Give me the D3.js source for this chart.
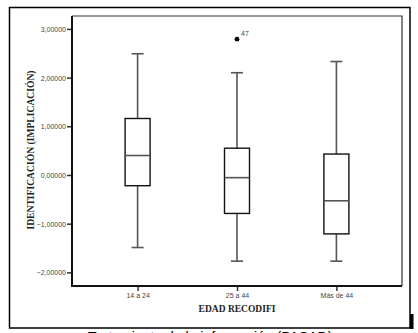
<!DOCTYPE html>
<html>
<head>
<meta charset="utf-8">
<script src="https://cdn.jsdelivr.net/npm/d3@7"></script>
<style>
  body { margin: 0; background: #fff; }
  svg { display: block; }
</style>
</head>
<body>
<svg id="chart" width="418" height="333"></svg>
<script>
// age groups and box stats
const groups = ['14 a 24', '25 a 44', 'Más de 44'];
const whiskerLow = [-1.49, -1.77, -1.77];
const q1 = [-0.22, -0.79, -1.21];
const median = [0.40, -0.055, -0.53];
const q3 = [1.16, 0.55, 0.43];
const whiskerHigh = [2.49, 2.10, 2.33];
const outliers = [{group: '25 a 44', value: 2.79, label: '47'}];
const yTicks = [-2, -1, 0, 1, 2, 3];

const svg = d3.select('#chart');

const plot = {left: 72, right: 402, top: 16, bottom: 286};

const x = d3.scalePoint()
    .domain(groups)
    .range([plot.left, plot.right])
    .padding(0.66);

const y = d3.scaleLinear()
    .domain([-2.28, 3.265])
    .range([plot.bottom, plot.top]);

const boxW = 25;
const capW = 12;

// outer frame + shadow
svg.append('rect')
    .attr('x', 9.5).attr('y', 7.5)
    .attr('width', 400.5).attr('height', 320.5)
    .attr('fill', 'none')
    .attr('stroke', '#000')
    .attr('stroke-width', 1.5);

svg.append('rect')
    .attr('x', 410).attr('y', 314)
    .attr('width', 3.5).attr('height', 15)
    .attr('fill', '#000');

// plot frame, top and right are thin
svg.append('path')
    .attr('d', `M${plot.left},${plot.top}H${plot.right}V${plot.bottom}`)
    .attr('fill', 'none')
    .attr('stroke', '#333')
    .attr('stroke-width', 1.2);

// axes
const yAxis = d3.axisLeft(y)
    .tickValues(yTicks)
    .tickSize(5)
    .tickFormat(d => d3.format('.5f')(d).replace('.', ','));

const xAxis = d3.axisBottom(x).tickSize(5);

const gy = svg.append('g')
    .attr('transform', `translate(${plot.left},0)`)
    .call(yAxis);

const gx = svg.append('g')
    .attr('transform', `translate(0,${plot.bottom})`)
    .call(xAxis);

[gy, gx].forEach(g => {
    g.select('.domain').remove();
    g.selectAll('.tick line').attr('stroke', '#333').attr('stroke-width', 1.5);
    g.selectAll('.tick text')
        .attr('fill', '#444')
        .style('font-family', 'Arial, "Liberation Sans", sans-serif')
        .style('font-size', '7px');
});
gy.selectAll('.tick text').attr('x', -6).attr('dy', '0.35em');
gx.selectAll('.tick text').attr('y', 7).attr('dy', '0.71em');

svg.append('path')
    .attr('d', `M${plot.left},${plot.top}V${plot.bottom}H${plot.right}`)
    .attr('fill', 'none')
    .attr('stroke', '#111')
    .attr('stroke-width', 2);

// boxes
const boxData = groups.map((g, i) => ({
    group: g, lo: whiskerLow[i], q1: q1[i], med: median[i], q3: q3[i], hi: whiskerHigh[i]
}));

const box = svg.append('g').selectAll('g')
    .data(boxData)
    .join('g')
        .attr('transform', d => `translate(${x(d.group)},0)`);

box.append('line')
    .attr('y1', d => y(d.hi)).attr('y2', d => y(d.q3))
    .attr('stroke', '#555').attr('stroke-width', 1.6);
box.append('line')
    .attr('y1', d => y(d.q1)).attr('y2', d => y(d.lo))
    .attr('stroke', '#555').attr('stroke-width', 1.6);

box.selectAll('.cap')
    .data(d => [d.hi, d.lo])
    .join('line')
        .attr('class', 'cap')
        .attr('x1', -capW / 2).attr('x2', capW / 2)
        .attr('y1', d => y(d)).attr('y2', d => y(d))
        .attr('stroke', '#555').attr('stroke-width', 1.6);

box.append('rect')
    .attr('x', -boxW / 2)
    .attr('y', d => y(d.q3))
    .attr('width', boxW)
    .attr('height', d => y(d.q1) - y(d.q3))
    .attr('fill', '#fff')
    .attr('stroke', '#111')
    .attr('stroke-width', 1.4);

box.append('line')
    .attr('x1', -boxW / 2).attr('x2', boxW / 2)
    .attr('y1', d => y(d.med)).attr('y2', d => y(d.med))
    .attr('stroke', '#555').attr('stroke-width', 1.6);

// outliers
const out = svg.append('g').selectAll('g')
    .data(outliers)
    .join('g')
        .attr('transform', d => `translate(${x(d.group)},${y(d.value)})`);

out.append('circle').attr('r', 2.4).attr('fill', '#000');
out.append('text')
    .attr('x', 4).attr('y', -3)
    .attr('fill', '#444')
    .style('font-family', 'Arial, "Liberation Sans", sans-serif')
    .style('font-size', '7px')
    .text(d => d.label);

// axis titles
svg.append('text')
    .attr('transform', `translate(34,150) rotate(-90)`)
    .attr('text-anchor', 'middle')
    .style('font-family', '"Liberation Serif", "Times New Roman", serif')
    .style('font-weight', 'bold')
    .style('font-size', '9.6px')
    .attr('fill', '#222')
    .text('IDENTIFICACIÓN (IMPLICACIÓN)');

svg.append('text')
    .attr('x', x('25 a 44'))
    .attr('y', 312)
    .attr('text-anchor', 'middle')
    .style('font-family', '"Liberation Serif", "Times New Roman", serif')
    .style('font-weight', 'bold')
    .style('font-size', '9.5px')
    .attr('fill', '#222')
    .text('EDAD RECODIFI');

// caption below, mostly cut off by the window like in the source
svg.append('text')
    .attr('x', 88)
    .attr('y', 342)
    .style('font-family', 'Arial, "Liberation Sans", sans-serif')
    .style('font-size', '14px')
    .attr('fill', '#000')
    .text('Tratamiento de la información (PASAD)');
</script>
</body>
</html>
